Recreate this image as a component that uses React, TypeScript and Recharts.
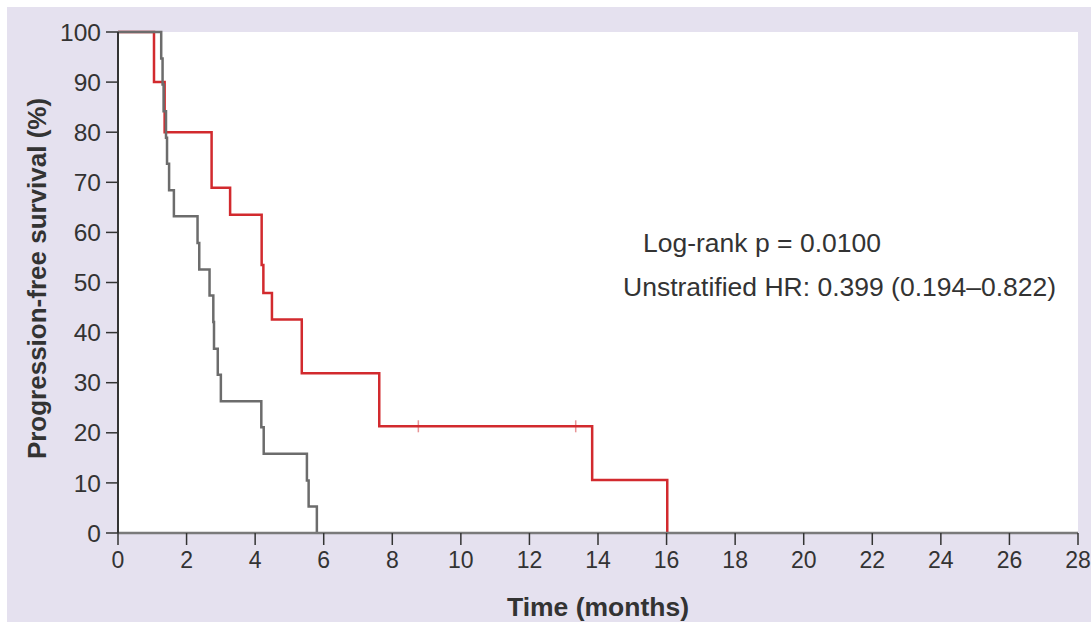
import { CartesianGrid, ComposedChart, Label, Line, Scatter, XAxis, YAxis } from 'recharts';

// Kaplan-Meier steps: time (months) -> survival (%) after the event
const treatedCurve = [
    { t: 0, s: 100 },
    { t: 1.05, s: 90 },
    { t: 1.36, s: 80 },
    { t: 2.73, s: 68.9 },
    { t: 3.27, s: 63.5 },
    { t: 4.19, s: 53.5 },
    { t: 4.24, s: 47.9 },
    { t: 4.49, s: 42.6 },
    { t: 5.36, s: 31.9 },
    { t: 7.62, s: 21.3 },
    { t: 13.83, s: 10.6 },
    { t: 16.02, s: 0 },
];

const controlCurve = [
    { t: 0, s: 100 },
    { t: 1.26, s: 94.7 },
    { t: 1.3, s: 89.5 },
    { t: 1.33, s: 84.2 },
    { t: 1.4, s: 78.9 },
    { t: 1.43, s: 73.7 },
    { t: 1.49, s: 68.4 },
    { t: 1.63, s: 63.2 },
    { t: 2.32, s: 57.9 },
    { t: 2.37, s: 52.6 },
    { t: 2.67, s: 47.4 },
    { t: 2.78, s: 42.1 },
    { t: 2.8, s: 36.8 },
    { t: 2.91, s: 31.6 },
    { t: 3.0, s: 26.3 },
    { t: 4.18, s: 21.1 },
    { t: 4.25, s: 15.8 },
    { t: 5.51, s: 10.5 },
    { t: 5.56, s: 5.3 },
    { t: 5.8, s: 0 },
];

const treatedCensored = [
    { t: 8.76, s: 21.3 },
    { t: 13.35, s: 21.3 },
];

const monthTicks = [0, 2, 4, 6, 8, 10, 12, 14, 16, 18, 20, 22, 24, 26, 28];
const survivalTicks = [0, 10, 20, 30, 40, 50, 60, 70, 80, 90, 100];

const RED = '#d22a2e';
const GRAY = '#6c6c6c';
const INK = '#333';
const FONT = '"Liberation Sans", Arial, sans-serif';

const CensorMark = (props: any) => {
    const { cx, cy } = props;
    return <line x1={cx} x2={cx} y1={cy - 6} y2={cy + 6} stroke={RED} strokeOpacity={0.5} strokeWidth={1.5} />;
};

const App = () => {
    return (
        <div style={{ paddingTop: 7, paddingLeft: 7, background: '#fff' }}>
            <style>{'body { margin: 0; }'}</style>
            <div style={{ width: 1084, height: 615, background: '#e5e1ef', fontFamily: FONT }}>
                <ComposedChart width={1084} height={615} margin={{ top: 25, right: 13, left: 0, bottom: 0 }}>
                    <CartesianGrid horizontal={false} vertical={false} fill="#ffffff" />
                    <XAxis
                        type="number"
                        dataKey="t"
                        domain={[0, 28]}
                        ticks={monthTicks}
                        height={89}
                        axisLine={{ stroke: '#7a7a7a', strokeWidth: 2.5 }}
                        tickLine={{ stroke: INK, strokeWidth: 1.5 }}
                        tickSize={12}
                        tickMargin={7}
                        tick={{ fill: INK, fontSize: 23, fontFamily: FONT }}
                    >
                        <Label
                            content={({ viewBox }: any) => (
                                <text
                                    x={viewBox.x + viewBox.width / 2}
                                    y={609}
                                    textAnchor="middle"
                                    fill={INK}
                                    fontSize={26.5}
                                    fontWeight="bold"
                                    fontFamily={FONT}
                                >
                                    Time (months)
                                </text>
                            )}
                        />
                    </XAxis>
                    <YAxis
                        type="number"
                        domain={[0, 100]}
                        ticks={survivalTicks}
                        width={111}
                        axisLine={{ stroke: INK, strokeWidth: 2 }}
                        tickLine={{ stroke: INK, strokeWidth: 1.5 }}
                        tickSize={12}
                        tickMargin={5}
                        tick={{ fill: INK, fontSize: 24.5, fontFamily: FONT }}
                    >
                        <Label
                            content={({ viewBox }: any) => (
                                <text
                                    transform={`translate(30, ${viewBox.y + viewBox.height / 2 - 4}) rotate(-90)`}
                                    textAnchor="middle"
                                    dominantBaseline="central"
                                    fill={INK}
                                    fontSize={26}
                                    fontWeight="bold"
                                    fontFamily={FONT}
                                >
                                    Progression-free survival (%)
                                </text>
                            )}
                        />
                    </YAxis>
                    <Line
                        data={treatedCurve}
                        dataKey="s"
                        type="stepAfter"
                        stroke={RED}
                        strokeWidth={2.5}
                        dot={false}
                        isAnimationActive={false}
                    />
                    <Line
                        data={controlCurve}
                        dataKey="s"
                        type="stepAfter"
                        stroke={GRAY}
                        strokeWidth={2.5}
                        dot={false}
                        isAnimationActive={false}
                    />
                    <Scatter data={treatedCensored} dataKey="s" shape={CensorMark} isAnimationActive={false} />
                    <text x={636} y={245} fill={INK} fontSize={26.5} fontFamily={FONT}>
                        Log-rank p = 0.0100
                    </text>
                    <text x={616} y={289} fill={INK} fontSize={26.5} fontFamily={FONT}>
                        Unstratified HR: 0.399 (0.194–0.822)
                    </text>
                </ComposedChart>
            </div>
        </div>
    );
};

export default App;
